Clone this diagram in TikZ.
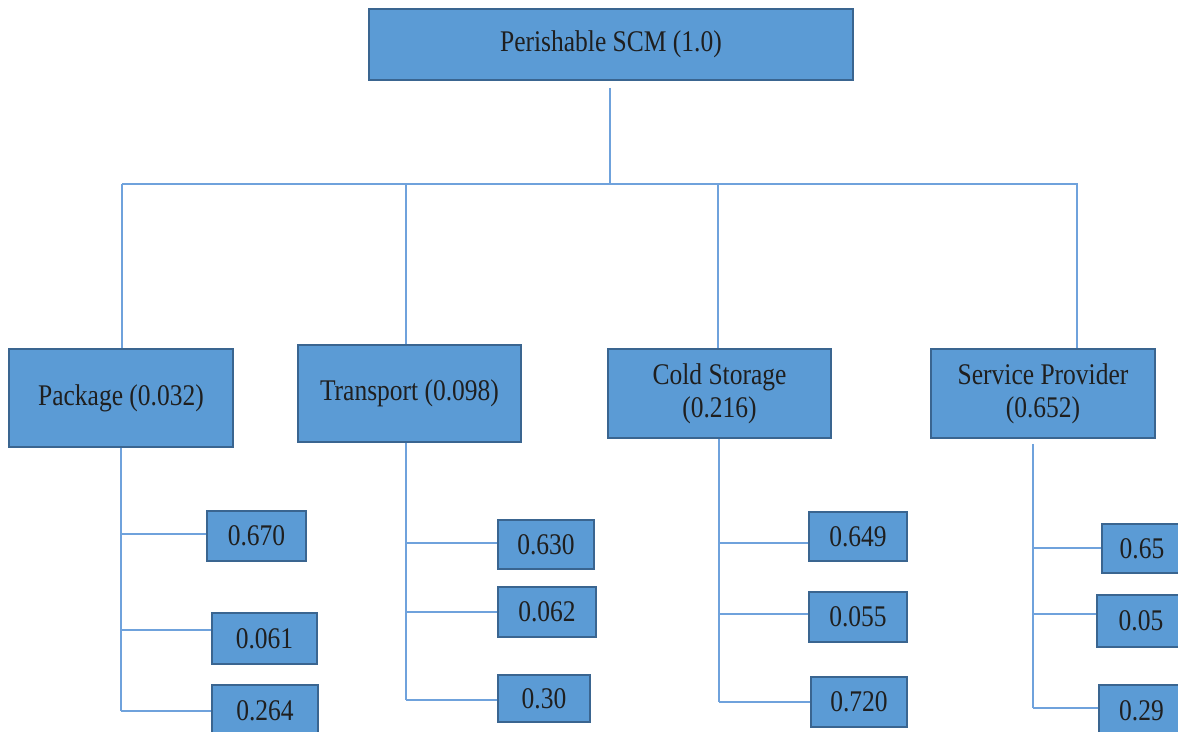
\documentclass[tikz,border=0pt]{standalone}
\usepackage{fontspec}
\setmainfont[FakeStretch=0.85]{Liberation Serif}
\usetikzlibrary{calc}
\definecolor{boxfill}{HTML}{5B9BD5}
\definecolor{boxline}{HTML}{3A6590}
\definecolor{wirecol}{HTML}{6FA2DC}
\begin{document}
\begin{tikzpicture}[x=1pt,y=-1pt,
  box/.style={draw=boxline, fill=boxfill, line width=1.6pt, inner sep=0pt,
    font=\fontsize{30}{33}\selectfont, text=black!88, align=center},
  wire/.style={draw=wirecol, line width=1.8pt}]
\useasboundingbox (0,0) rectangle (1178,731);
\clip (0,0) rectangle (1178,731);

% top level
\node[box, minimum width=484pt, minimum height=71pt] (root) at (611,44.5) {Perishable SCM (1.0)};

% criteria
\node[box, minimum width=224pt, minimum height=98pt] (pkg) at (121,398) {Package (0.032)};
\node[box, minimum width=223pt, minimum height=97pt] (tr)  at (409.5,393.5) {Transport (0.098)};
\node[box, minimum width=223pt, minimum height=89pt] (cs)  at (719.5,393.5) {Cold Storage\\(0.216)};
\node[box, minimum width=224pt, minimum height=89pt] (sp)  at (1043,393.5) {Service Provider\\(0.652)};

% sub-criteria weights
\node[box, minimum width=99pt,  minimum height=50pt] (p1) at (256.5,536) {0.670};
\node[box, minimum width=105pt, minimum height=51pt] (p2) at (264.5,638.5) {0.061};
\node[box, minimum width=106pt, minimum height=52pt] (p3) at (265,711) {0.264};

\node[box, minimum width=96pt, minimum height=49pt] (t1) at (546,544.5) {0.630};
\node[box, minimum width=98pt, minimum height=50pt] (t2) at (547,612) {0.062};
\node[box, minimum width=92pt, minimum height=47pt] (t3) at (544,698.5) {0.30};

\node[box, minimum width=98pt, minimum height=49pt] (c1) at (858,536.5) {0.649};
\node[box, minimum width=98pt, minimum height=50pt] (c2) at (858,617) {0.055};
\node[box, minimum width=96pt, minimum height=50pt] (c3) at (859,702) {0.720};

\node[box, minimum width=80pt, minimum height=49pt] (s1) at (1142,548.5) {0.65};
\node[box, minimum width=88pt, minimum height=52pt] (s2) at (1141,621) {0.05};
\node[box, minimum width=85pt, minimum height=52pt] (s3) at (1141.5,711) {0.29};

% bus under the root
\coordinate (busL) at (122,184);
\coordinate (busR) at (1078,184);
\coordinate (busM) at (610,184);
\coordinate (trIn) at (406,184);
\coordinate (csIn) at (718,184);
\coordinate (spIn) at (1077,184);
\draw[wire, shorten <=7pt] (root.south -| busM) -- (busM);
\draw[wire] (busL) -- (busR);
\draw[wire] (busL) -- (busL |- pkg.north);
\draw[wire] (trIn) -- (trIn |- tr.north);
\draw[wire] (csIn) -- (csIn |- cs.north);
\draw[wire] (spIn) -- (spIn |- sp.north);

% spines and branches
\coordinate (pb1) at (121,534);
\coordinate (pb2) at (121,630);
\coordinate (pb3) at (121,711);
\draw[wire] (pkg.south) -- (pb3);
\draw[wire] (pb1) -- (pb1 -| p1.west);
\draw[wire] (pb2) -- (pb2 -| p2.west);
\draw[wire] (pb3) -- (pb3 -| p3.west);

\coordinate (tb1) at (406,543);
\coordinate (tb2) at (406,612);
\coordinate (tb3) at (406,700);
\draw[wire] (tr.south -| tb3) -- (tb3);
\draw[wire] (tb1) -- (tb1 -| t1.west);
\draw[wire] (tb2) -- (tb2 -| t2.west);
\draw[wire] (tb3) -- (tb3 -| t3.west);

\coordinate (cb1) at (719,543);
\coordinate (cb2) at (719,614);
\coordinate (cb3) at (719,702);
\draw[wire] (cs.south -| cb3) -- (cb3);
\draw[wire] (cb1) -- (cb1 -| c1.west);
\draw[wire] (cb2) -- (cb2 -| c2.west);
\draw[wire] (cb3) -- (cb3 -| c3.west);

\coordinate (sb1) at (1033,548);
\coordinate (sb2) at (1033,614);
\coordinate (sb3) at (1033,708);
\draw[wire, shorten <=5pt] (sp.south -| sb3) -- (sb3);
\draw[wire] (sb1) -- (sb1 -| s1.west);
\draw[wire] (sb2) -- (sb2 -| s2.west);
\draw[wire] (sb3) -- (sb3 -| s3.west);
\end{tikzpicture}
\end{document}
